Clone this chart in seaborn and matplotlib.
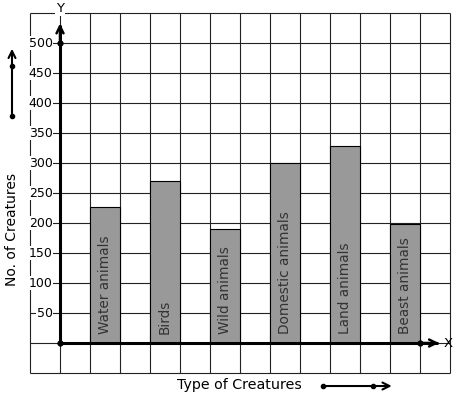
import seaborn as sns
import matplotlib.pyplot as plt

# data
creatures = ['Water animals', 'Birds', 'Wild animals', 'Domestic animals', 'Land animals', 'Beast animals']
counts = [226, 270, 190, 300, 328, 198]
positions = [1.5, 3.5, 5.5, 7.5, 9.5, 11.5]
yticks = [50, 100, 150, 200, 250, 300, 350, 400, 450, 500]

fig = plt.figure(figsize=(4.57, 3.99), dpi=100)
ax = fig.add_axes([0, 0, 1, 1])

# graph paper
ax.vlines(range(-1, 14), -50, 550, color='#222222', lw=0.8, zorder=1)
ax.hlines(range(-50, 551, 50), -1, 13, color='#222222', lw=0.8, zorder=1)

sns.barplot(x=positions, y=counts, native_scale=True, width=0.5, color='#999999',
            saturation=1, edgecolor='black', linewidth=0.8, ax=ax, zorder=2)

for x, name in zip(positions, creatures):
    ax.text(x, 15, name, rotation=90, ha='center', va='bottom', fontsize=9.8,
            color='#333333', zorder=3)

# y tick labels with white background over the grid
for v in yticks:
    ax.text(-0.25, v, str(v), ha='right', va='center', fontsize=9, zorder=3,
            bbox=dict(facecolor='white', edgecolor='none', pad=0.3))

# axes
ax.plot([0, 0], [0, 530], color='black', lw=2.2, zorder=4, solid_capstyle='butt')
ax.plot([0, 12.6], [0, 0], color='black', lw=2.2, zorder=4, solid_capstyle='butt')
ax.annotate('', xy=(0, 537), xytext=(0, 500),
            arrowprops=dict(arrowstyle='->,head_length=0.5,head_width=0.25', lw=1.8, color='black'), zorder=4)
ax.annotate('', xy=(12.72, 0), xytext=(12.0, 0),
            arrowprops=dict(arrowstyle='->,head_length=0.5,head_width=0.25', lw=1.8, color='black'), zorder=4)
ax.plot([0, 0, 12], [0, 500, 0], 'o', color='black', ms=3.5, zorder=5)
ax.text(0, 557, 'Y', ha='center', va='center', fontsize=9.5, zorder=3,
        bbox=dict(facecolor='white', edgecolor='none', pad=0.5))
ax.text(12.8, 0, 'X', ha='left', va='center', fontsize=9.5, zorder=3)

# axis titles with arrows
ax.text(-1.6, 190, 'No. of Creatures', rotation=90, ha='center', va='center', fontsize=10)
ax.text(5.97, -70, 'Type of Creatures', ha='center', va='center', fontsize=10.3)
ax.annotate('', xy=(-1.6, 495), xytext=(-1.6, 378),
            arrowprops=dict(arrowstyle='->,head_length=0.5,head_width=0.25', lw=1.5, color='black'))
ax.plot([-1.6, -1.6], [378, 462], 'o', color='black', ms=3)
ax.annotate('', xy=(11.15, -71.7), xytext=(8.77, -71.7),
            arrowprops=dict(arrowstyle='->,head_length=0.5,head_width=0.25', lw=1.5, color='black'))
ax.plot([8.77, 10.43], [-71.7, -71.7], 'o', color='black', ms=3)

ax.set_xlim(-2, 13.233)
ax.set_ylim(-93.33, 571.67)
ax.axis('off')

fig.savefig('out.png', dpi=100)
